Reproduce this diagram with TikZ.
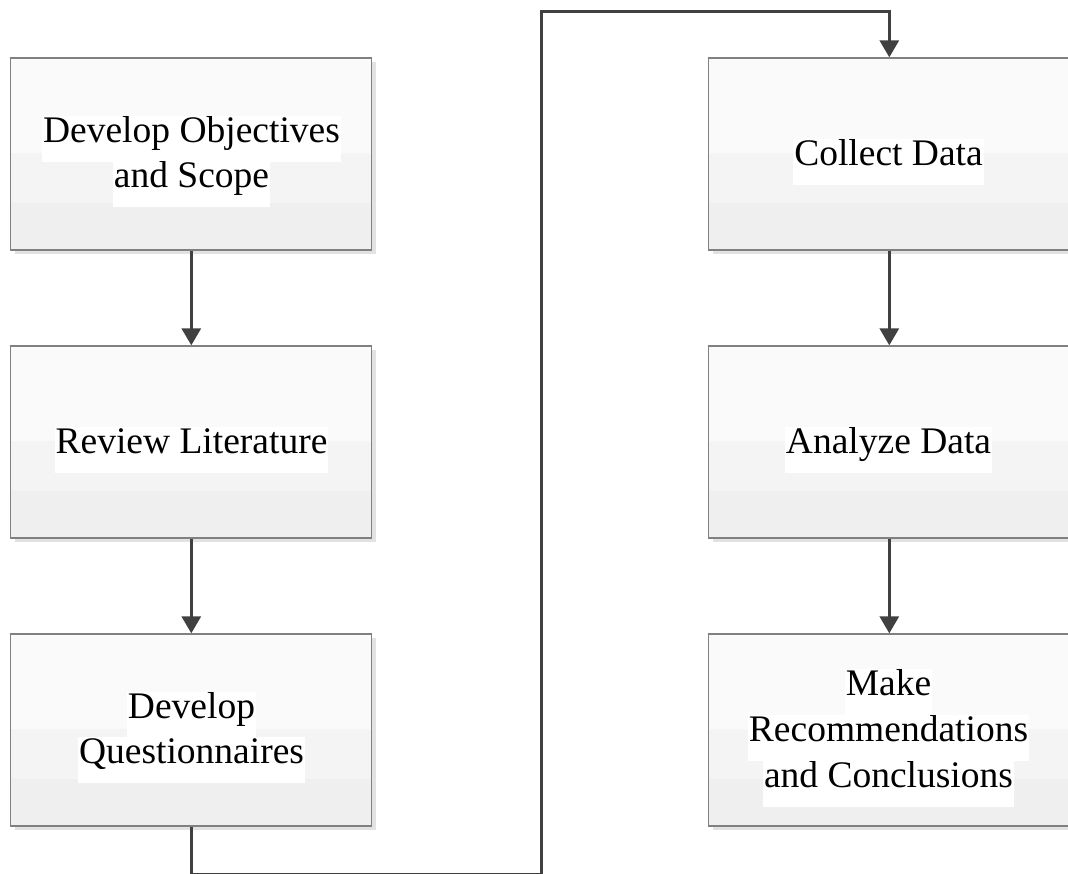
\documentclass[tikz,border=0pt]{standalone}
\usepackage{fontspec}
\setmainfont{Liberation Serif}
\usetikzlibrary{arrows.meta,shadows}
\definecolor{bandtop}{HTML}{FAFAFA}
\definecolor{bandmid}{HTML}{F4F4F4}
\definecolor{bandlow}{HTML}{EFEFEF}
\definecolor{boxborder}{HTML}{808080}
\definecolor{shadowgray}{HTML}{E2E2E2}
\definecolor{arrowgray}{HTML}{404040}
\tikzset{
  stepbox/.style={draw=boxborder, line width=1.3pt, fill=bandtop,
    minimum width=361pt, minimum height=192pt, inner sep=0pt,
    drop shadow={shadow xshift=4pt, shadow yshift=-4pt, fill=shadowgray, opacity=1},
    path picture={
      \fill[bandmid] ([yshift=-95pt]path picture bounding box.north west) rectangle (path picture bounding box.south east);
      \fill[bandlow] ([yshift=-145pt]path picture bounding box.north west) rectangle (path picture bounding box.south east);
    }},
  lbl/.style={fill=white, inner xsep=1pt, inner ysep=0pt, text height=26pt, text depth=20pt,
    anchor=base, font=\fontsize{37.5}{45}\selectfont},
  arr/.style={draw=arrowgray, line width=3pt, -{Triangle[width=19pt,length=17pt]}}
}
\begin{document}
\begin{tikzpicture}[x=1pt,y=-1pt]
\useasboundingbox (0,0) rectangle (1068,873);
% boxes
\node[stepbox] (b1) at (191.3,154) {};
\node[stepbox] (b2) at (191.3,442) {};
\node[stepbox] (b3) at (191.3,730) {};
\node[stepbox] (b4) at (889.3,154) {};
\node[stepbox] (b5) at (889.3,442) {};
\node[stepbox] (b6) at (889.3,730) {};
% labels
\node[lbl] (t1a) at (191.5,142) {Develop Objectives};
\node[lbl] (t1b) at (191.5,187) {and Scope};
\node[lbl] (t2) at (191.5,453) {Review Literature};
\node[lbl] (t3a) at (191.5,718) {Develop};
\node[lbl] (t3b) at (191.5,763) {Questionnaires};
\node[lbl] (t4) at (888.5,165) {Collect Data};
\node[lbl] (t5) at (888.5,453) {Analyze Data};
\node[lbl] (t6a) at (888.5,695) {Make};
\node[lbl] (t6b) at (888.5,741) {Recommendations};
\node[lbl] (t6c) at (888.5,787) {and Conclusions};
% connectors
\coordinate (c1) at (191.3,874.5);
\coordinate (c2) at (541,874.5);
\coordinate (c3) at (541,11);
\coordinate (c4) at (889.3,11);
\draw[arr] (b1.south) -- (b2.north);
\draw[arr] (b2.south) -- (b3.north);
\draw[arr] (b4.south) -- (b5.north);
\draw[arr] (b5.south) -- (b6.north);
\draw[arr] (b3.south) -- (c1) -- (c2) -- (c3) -- (c4) -- (b4.north);
\end{tikzpicture}
\end{document}
